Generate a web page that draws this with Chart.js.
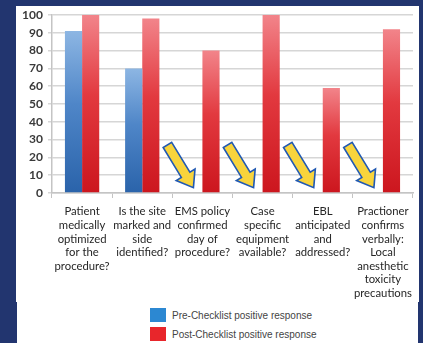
<!DOCTYPE html>
<html>
<head>
<meta charset="utf-8">
<script src="https://cdn.jsdelivr.net/npm/chart.js@4"></script>
<style>
    html, body { margin: 0; padding: 0; }
    body { width: 423px; height: 343px; background: #22356f; position: relative; overflow: hidden; }
    #panel { position: absolute; left: 16px; top: 6px; width: 403px; height: 296px; background: #fff; }
    #legend-panel { position: absolute; left: 17px; top: 302px; width: 401px; height: 41px; background: #fff; }
    #chart-wrap { position: absolute; left: 0; top: 0; width: 423px; height: 302px; }
    .legend-item { position: absolute; left: 150px; height: 14px; display: flex; align-items: center; }
    .legend-item .box { width: 16px; height: 14px; margin-right: 6px; }
    .legend-item span { font-family: 'Liberation Sans Narrow', 'Arial Narrow', 'Liberation Sans', sans-serif; font-size: 10px; color: #444; white-space: nowrap; }
</style>
</head>
<body>
<div id="panel"></div>
<div id="legend-panel"></div>
<div id="chart-wrap"><canvas id="checklist-chart" width="423" height="302"></canvas></div>
<div class="legend-item" style="top:308px"><div class="box" style="background:#2c88d2"></div><span id="pre-label"></span></div>
<div class="legend-item" style="top:327px"><div class="box" style="background:#e8262b"></div><span id="post-label"></span></div>

<script>
const categories = [
    ['Patient', 'medically', 'optimized', 'for the', 'procedure?'],
    ['Is the site', 'marked and', 'side', 'identified?'],
    ['EMS policy', 'confirmed', 'day of', 'procedure?'],
    ['Case', 'specific', 'equipment', 'available?'],
    ['EBL', 'anticipated', 'and', 'addressed?'],
    ['Practioner', 'confirms', 'verbally:', 'Local', 'anesthetic', 'toxicity', 'precautions']
];
const preChecklist = [91, 70, null, null, null, null];
const postChecklist = [100, 98, 80, 100, 59, 92];
const seriesNames = ['Pre-Checklist positive response', 'Post-Checklist positive response'];
const yTicks = [0, 10, 20, 30, 40, 50, 60, 70, 80, 90, 100];

document.getElementById('pre-label').textContent = seriesNames[0];
document.getElementById('post-label').textContent = seriesNames[1];

// vertical gradient per bar, light at the top
function barGradient(stops) {
    return (ctx) => {
        const chart = ctx.chart;
        const v = ctx.raw;
        if (!chart.chartArea || v == null) return stops[stops.length - 1][1];
        const y = chart.scales.y;
        const top = y.getPixelForValue(v);
        const base = y.getPixelForValue(0);
        const g = chart.ctx.createLinearGradient(0, top, 0, base);
        stops.forEach(([p, c]) => g.addColorStop(p, c));
        return g;
    };
}

// yellow pointer arrows next to the missing pre-checklist bars
const arrowPlugin = {
    id: 'arrows',
    afterDatasetsDraw(chart) {
        const { ctx, scales } = chart;
        preChecklist.forEach((v, i) => {
            if (v != null) return;
            const cx = scales.x.getPixelForValue(i);
            const x0 = cx - 35, y0 = scales.y.getPixelForValue(27);
            const x1 = cx - 9, y1 = scales.y.getPixelForValue(3);
            const len = Math.hypot(x1 - x0, y1 - y0);
            const ang = Math.atan2(y1 - y0, x1 - x0);
            const sw = 5, hw = 11, hl = 15;
            ctx.save();
            ctx.translate(x0, y0);
            ctx.rotate(ang);
            ctx.beginPath();
            ctx.moveTo(0, -sw);
            ctx.lineTo(len - hl, -sw);
            ctx.lineTo(len - hl, -hw);
            ctx.lineTo(len, 0);
            ctx.lineTo(len - hl, hw);
            ctx.lineTo(len - hl, sw);
            ctx.lineTo(0, sw);
            ctx.closePath();
            ctx.fillStyle = '#f8d43c';
            ctx.fill();
            ctx.lineWidth = 1.6;
            ctx.strokeStyle = '#2159b2';
            ctx.lineJoin = 'miter';
            ctx.stroke();
            ctx.restore();
        });
    }
};

new Chart(document.getElementById('checklist-chart'), {
    type: 'bar',
    data: {
        labels: categories,
        datasets: [
            {
                label: seriesNames[0],
                data: preChecklist,
                backgroundColor: barGradient([[0, '#8db6e3'], [0.45, '#4f86c8'], [1, '#2a63aa']]),
                borderWidth: 0
            },
            {
                label: seriesNames[1],
                data: postChecklist,
                backgroundColor: barGradient([[0, '#f2848a'], [0.45, '#e2393f'], [1, '#cc161e']]),
                borderWidth: 0
            }
        ]
    },
    options: {
        responsive: false,
        animation: false,
        layout: { padding: { top: 15, right: 10, bottom: 0, left: 0 } },
        categoryPercentage: 0.57,
        barPercentage: 1.0,
        plugins: {
            legend: { display: false },
            tooltip: { enabled: false }
        },
        scales: {
            x: {
                grid: { drawOnChartArea: false, drawTicks: true, tickLength: 5, color: '#c4c4c4', offset: true },
                border: { color: '#c4c4c4', width: 1.5 },
                ticks: {
                    maxRotation: 0,
                    autoSkip: false,
                    padding: 7,
                    color: '#262626',
                    font: { family: 'Lato', size: 11.3, lineHeight: 1.2 }
                },
                afterFit(scale) { scale.height = 109; }
            },
            y: {
                min: 0,
                max: 100,
                afterBuildTicks(scale) { scale.ticks = yTicks.map(v => ({ value: v })); },
                grid: { color: '#d6d6d6', lineWidth: 1.5, tickLength: 4 },
                border: { color: '#c4c4c4', width: 1.5 },
                ticks: {
                    padding: 5,
                    color: '#3a3a3a',
                    font: { family: 'Lato', size: 12, weight: 'bold' }
                },
                afterFit(scale) { scale.width = 52; }
            }
        }
    },
    plugins: [arrowPlugin]
});
</script>
</body>
</html>
